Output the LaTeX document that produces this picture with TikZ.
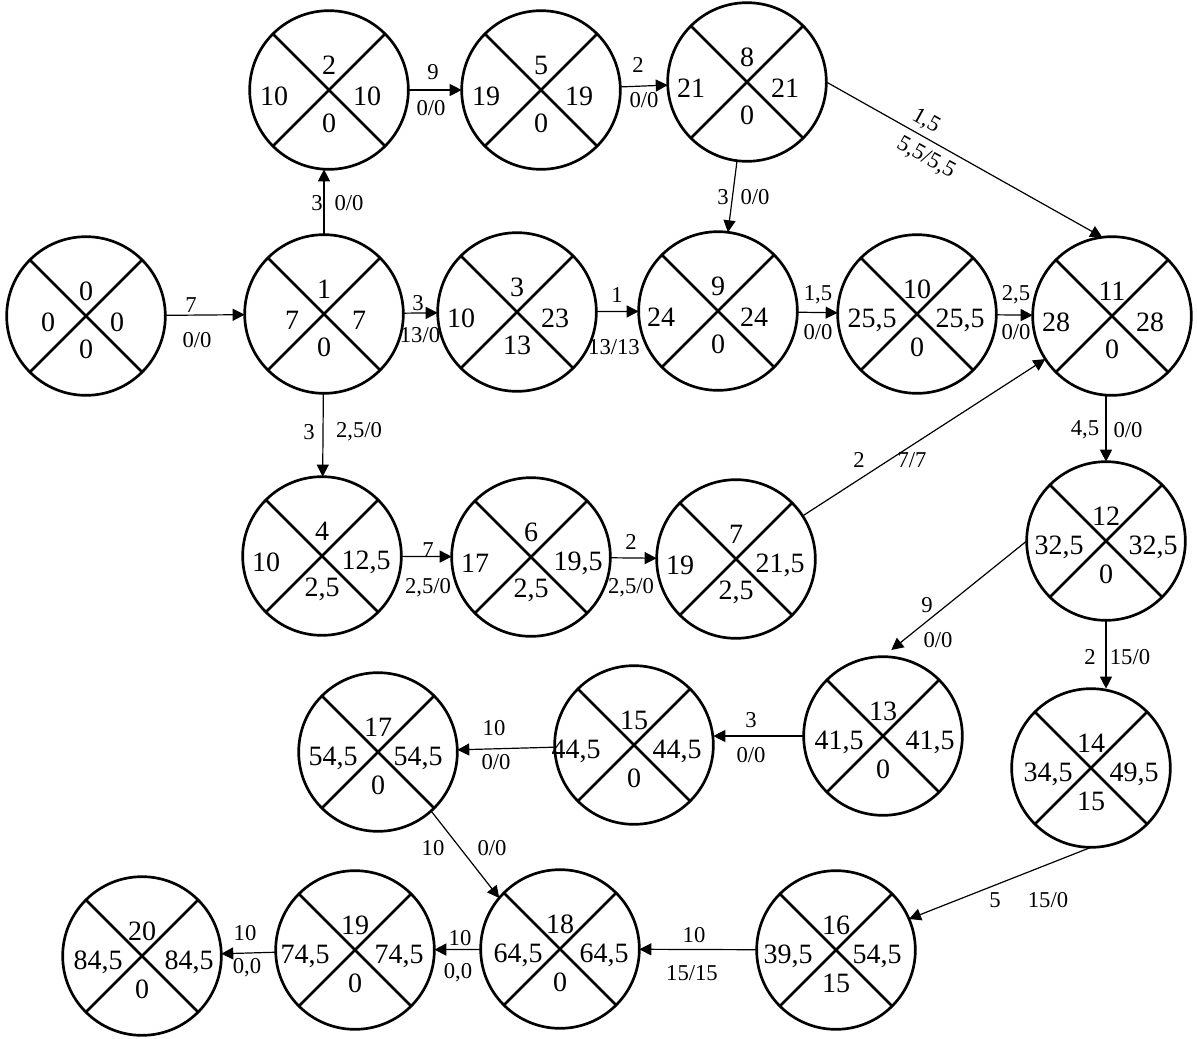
\documentclass[tikz,border=0pt]{standalone}
\usepackage{fontspec}
\setmainfont{Liberation Serif}
\usetikzlibrary{arrows.meta}

\tikzset{
  evt/.style={circle, draw, line width=2pt, minimum size=119pt, inner sep=0pt, outer sep=0pt},
  cross/.style={line width=1.9pt},
  num/.style={font=\fontsize{21}{21}\selectfont, inner sep=0pt},
  act/.style={line width=0.9pt, -{Triangle[length=9pt,width=9pt]}},
  lbl/.style={font=\fontsize{17}{17}\selectfont, inner sep=0pt},
}

% event circle: name, x, y, number, early time, late time, reserve, left dx, right dx
\newcommand{\eventnode}[9]{%
  \node[evt] (#1) at (#2,#3) {};
  \draw[cross] (#1.north west) -- (#1.south east) (#1.north east) -- (#1.south west);
  \path (#1) ++(0,-25) node[num] (#1t) {#4}
        (#1) ++(#8,6)  node[num] (#1l) {#5}
        (#1) ++(#9,6)  node[num] (#1r) {#6}
        (#1) ++(0,33)  node[num] (#1b) {#7};
}

\begin{document}
\begin{tikzpicture}[x=0.75pt, y=-0.75pt]
\useasboundingbox (0,0) rectangle (1197,1039);

% events
\eventnode{n0}{86}{316}{0}{0}{0}{0}{-38}{31}
\eventnode{n1}{324}{314}{1}{7}{7}{0}{-32}{35}
\eventnode{n2}{329}{90}{2}{10}{10}{0}{-55}{38}
\eventnode{n3}{517}{312}{3}{10}{23}{13}{-56}{38}
\eventnode{n5}{541}{90}{5}{19}{19}{0}{-55}{38}
\eventnode{n8}{747}{82}{8}{21}{21}{0}{-56}{38}
\eventnode{n9}{718}{311}{9}{24}{24}{0}{-57}{36}
\eventnode{n10}{917}{314}{10}{25,5}{25,5}{0}{-45}{43}
\eventnode{n11}{1112}{316}{11}{28}{28}{0}{-56}{38}
\eventnode{n4}{322}{556}{4}{10}{12,5}{2,5}{-56}{44}
\eventnode{n6}{531}{557}{6}{17}{19,5}{2,5}{-56}{47}
\eventnode{n7}{736}{559}{7}{19}{21,5}{2,5}{-56}{44}
\eventnode{n12}{1106}{541}{12}{32,5}{32,5}{0}{-47}{47}
\eventnode{n13}{883}{736}{13}{41,5}{41,5}{0}{-44}{47}
\eventnode{n14}{1091}{768}{14}{34,5}{49,5}{15}{-43}{43}
\eventnode{n15}{634}{745}{15}{44,5}{44,5}{0}{-58}{43}
\eventnode{n17}{378}{752}{17}{54,5}{54,5}{0}{-45}{40}
\eventnode{n16}{836}{950}{16}{39,5}{54,5}{15}{-48}{41}
\eventnode{n18}{560}{949}{18}{64,5}{64,5}{0}{-42}{44}
\eventnode{n19}{355}{950}{19}{74,5}{74,5}{0}{-50}{44}
\eventnode{n20}{142}{956}{20}{84,5}{84,5}{0}{-44}{47}

% activities
\draw[act] (n0) -- (n1);
\draw[act] (n1.north) -- (n1.north |- n2.south);
\draw[act] (n2) -- (n5);
\draw[act] (n5) -- (n8);
\draw[act] (n8.east) -- (n11.97);
\draw[act] (n8) -- (n9);
\draw[act] (n1) -- (n3);
\draw[act] (n3) -- (n9);
\draw[act] (n9) -- (n10);
\draw[act] (n10) -- (n11);
\draw[act] (n1) -- (n4);
\draw[act] (n4) -- (n6);
\draw[act] (n6) -- (n7);
\draw[act] (n7) -- (n11);
\draw[act] (n12.north |- n11.south) -- (n12.north);
\draw[act, shorten >=8pt] (n12.west) -- (n13.north);
\draw[act] (n12.south) -- (n12.south |- n14.north);
\draw[act] (n13) -- (n13 -| n15.east);
\draw[act] (n15) -- (n17);
\draw[act] (n17.-48) -- (n18.140);
\draw[act] (n14.south) -- (n16.23);
\draw[act] (n16) -- (n18);
\draw[act] (n18) -- (n19);
\draw[act] (n19) -- (n20);

% activity labels: duration and reserves
\node[lbl] (a1d) at (191,305) {7};
\node[lbl] (a1r) at (197,340) {0/0};
\node[lbl] (a2d) at (317,203) {3};
\node[lbl] (a2r) at (349,203) {0/0};
\node[lbl] (a3d) at (433,72) {9};
\node[lbl] (a3r) at (431,108) {0/0};
\node[lbl] (a4d) at (638,65) {2};
\node[lbl] (a4r) at (644,100) {0/0};
\node[lbl, rotate=-29] (a5d) at (926,121) {1,5};
\node[lbl, rotate=-29] (a5r) at (926,158) {5,5/5,5};
\node[lbl] (a6d) at (723,197) {3};
\node[lbl] (a6r) at (755,197) {0/0};
\node[lbl] (a7d) at (418,303) {3};
\node[lbl] (a7r) at (420,335) {13/0};
\node[lbl] (a8d) at (617,295) {1};
\node[lbl] (a8r) at (614,347) {13/13};
\node[lbl] (a9d) at (818,295) {1,5};
\node[lbl] (a9r) at (818,332) {0/0};
\node[lbl] (a10d) at (1016,295) {2,5};
\node[lbl] (a10r) at (1016,332) {0/0};
\node[lbl] (a11d) at (309,432) {3};
\node[lbl] (a11r) at (359,432) {2,5/0};
\node[lbl] (a12d) at (428,550) {7};
\node[lbl] (a12r) at (428,588) {2,5/0};
\node[lbl] (a13d) at (631,542) {2};
\node[lbl] (a13r) at (631,588) {2,5/0};
\node[lbl] (a14d) at (859,460) {2};
\node[lbl] (a14r) at (912,460) {7/7};
\node[lbl] (a15d) at (1085,430) {4,5};
\node[lbl] (a15r) at (1128,430) {0/0};
\node[lbl] (a16d) at (927,605) {9};
\node[lbl] (a16r) at (938,640) {0/0};
\node[lbl] (a17d) at (1090,657) {2};
\node[lbl] (a17r) at (1130,657) {15/0};
\node[lbl] (a18d) at (751,720) {3};
\node[lbl] (a18r) at (751,755) {0/0};
\node[lbl] (a19d) at (494,728) {10};
\node[lbl] (a19r) at (496,762) {0/0};
\node[lbl] (a20d) at (433,848) {10};
\node[lbl] (a20r) at (492,848) {0/0};
\node[lbl] (a21d) at (995,900) {5};
\node[lbl] (a21r) at (1048,900) {15/0};
\node[lbl] (a22d) at (694,935) {10};
\node[lbl] (a22r) at (692,973) {15/15};
\node[lbl] (a23d) at (460,938) {10};
\node[lbl] (a23r) at (458,973) {0,0};
\node[lbl] (a24d) at (245,933) {10};
\node[lbl] (a24r) at (247,968) {0,0};
\end{tikzpicture}
\end{document}
